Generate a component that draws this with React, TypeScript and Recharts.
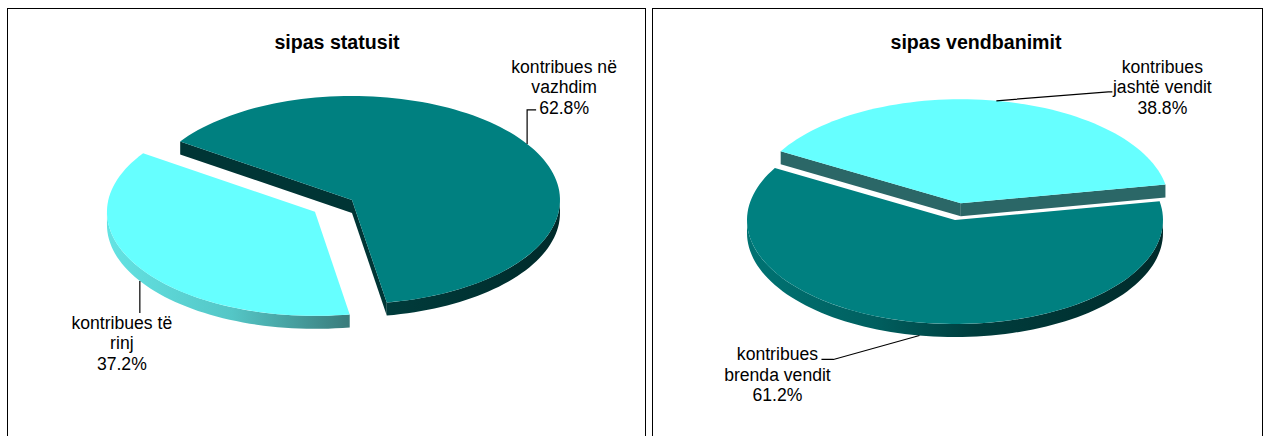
import React from "react";
import { Cell, Pie, PieChart } from "recharts";

// --- data ---
const statusNames = ["kontribues në vazhdim", "kontribues të rinj"];
const statusValues = [62.8, 37.2];
const statusLabelLines = [
  ["kontribues në", "vazhdim"],
  ["kontribues të", "rinj"],
];

const residenceNames = ["kontribues jashtë vendit", "kontribues brenda vendit"];
const residenceValues = [38.8, 61.2];
const residenceLabelLines = [
  ["kontribues", "jashtë vendit"],
  ["kontribues", "brenda vendit"],
];

const titles = ["sipas statusit", "sipas vendbanimit"];

// --- look ---
const FONT = '"Liberation Sans", Arial, Helvetica, sans-serif';
const RAD = Math.PI / 180;
const TILT = 0.5;
const DEPTH = 13;
const LINE_H = 20.5;

const TEAL = "#008080";
const AQUA = "#66ffff";

type SliceLook = {
  top: string;
  face: string;
  wall: [number, string][];
  explode: number;
  leader: [number, number][];
  text: [number, number];
};

const looks: Record<string, SliceLook> = {
  "kontribues në vazhdim": {
    top: TEAL,
    face: "#003535",
    wall: [[0, "#007373"], [0.3, "#006060"], [0.55, "#003d3d"], [1, "#002a2a"]],
    explode: 0,
    leader: [[0, 0], [0, -34], [9, -34]],
    text: [37, -77],
  },
  "kontribues të rinj": {
    top: AQUA,
    face: "#2b6767",
    wall: [[0, "#63e3e3"], [0.3, "#54c6c6"], [0.58, "#3a7c7c"], [1, "#255555"]],
    explode: 44,
    leader: [[0, 0], [0, 32]],
    text: [-18, 42],
  },
  "kontribues jashtë vendit": {
    top: AQUA,
    face: "#2b6767",
    wall: [[0, "#63e3e3"], [0.3, "#54c6c6"], [0.58, "#3a7c7c"], [1, "#255555"]],
    explode: 34,
    leader: [[0, 0], [112, -9], [116, -9]],
    text: [166, -34],
  },
  "kontribues brenda vendit": {
    top: TEAL,
    face: "#003535",
    wall: [[0, "#007373"], [0.3, "#006060"], [0.55, "#003d3d"], [1, "#002a2a"]],
    explode: 0,
    leader: [[0, 0], [-86, 24], [-98, 24]],
    text: [-142, 19],
  },
};

const pt = (cx: number, cy: number, r: number, a: number): [number, number] => [
  cx + r * Math.cos(a * RAD),
  cy - r * TILT * Math.sin(a * RAD),
];

function arc(cx: number, cy: number, r: number, a1: number, a2: number, dy = 0) {
  const n = Math.max(2, Math.ceil(Math.abs(a2 - a1) / 2));
  const out: [number, number][] = [];
  for (let i = 0; i <= n; i++) {
    const [x, y] = pt(cx, cy, r, a1 + ((a2 - a1) * i) / n);
    out.push([x, y + dy]);
  }
  return out;
}

const poly = (p: [number, number][]) =>
  "M" + p.map(([x, y]) => `${x.toFixed(2)},${y.toFixed(2)}`).join("L") + "Z";

function center(props: any, look: SliceLook) {
  const mid = (props.startAngle + props.endAngle) / 2;
  return {
    mid,
    x0: props.cx + look.explode * Math.cos(mid * RAD),
    y0: props.cy - look.explode * TILT * Math.sin(mid * RAD),
  };
}

function Slice3D(props: any) {
  const name = props.name ?? props.payload?.name;
  const look = looks[name];
  const r = props.outerRadius;
  const { x0, y0 } = center(props, look);
  const hi = Math.max(props.startAngle, props.endAngle);
  const lo = Math.min(props.startAngle, props.endAngle);
  const gid = "wall" + name.replace(/[^a-z]/gi, "");

  const faces: string[] = [];
  const edge = (a: number) => {
    const p = pt(x0, y0, r, a);
    faces.push(poly([[x0, y0], p, [p[0], p[1] + DEPTH], [x0, y0 + DEPTH]]));
  };
  if (Math.cos(hi * RAD) < 0) edge(hi);
  if (Math.cos(lo * RAD) > 0) edge(lo);

  const walls: string[] = [];
  for (let n = Math.floor(lo / 360) - 1; n <= Math.ceil(hi / 360) + 1; n++) {
    const a1 = Math.max(lo, 180 + 360 * n);
    const a2 = Math.min(hi, 360 + 360 * n);
    if (a2 > a1) {
      walls.push(poly([...arc(x0, y0, r, a1, a2), ...arc(x0, y0, r, a2, a1, DEPTH)]));
    }
  }

  return (
    <g>
      <defs>
        <linearGradient id={gid} gradientUnits="userSpaceOnUse" x1={x0 - r} y1={0} x2={x0 + r} y2={0}>
          {look.wall.map(([o, c]) => (
            <stop key={o} offset={o} stopColor={c} />
          ))}
        </linearGradient>
      </defs>
      {faces.map((d, i) => (
        <path key={"f" + i} d={d} fill={look.face} />
      ))}
      {walls.map((d, i) => (
        <path key={"w" + i} d={d} fill={`url(#${gid})`} />
      ))}
      <path d={poly([[x0, y0], ...arc(x0, y0, r, props.startAngle, props.endAngle)])} fill={props.fill} />
    </g>
  );
}

const makeLabel = (lines: string[][]) => (props: any) => {
  const name = props.name ?? props.payload?.name;
  const look = looks[name];
  const { mid, x0, y0 } = center(props, look);
  const [ax, ay0] = pt(x0, y0, props.outerRadius, mid);
  const ay = ay0 + (Math.sin(mid * RAD) < 0 ? DEPTH : 0);
  const tx = ax + look.text[0];
  const ty = ay + look.text[1];
  const rows = [...lines[props.index], `${(props.percent * 100).toFixed(1)}%`];
  return (
    <g>
      <polyline
        points={look.leader.map(([dx, dy]) => `${ax + dx},${ay + dy}`).join(" ")}
        fill="none"
        stroke="#000"
        strokeWidth={1.2}
      />
      {rows.map((t, i) => (
        <text
          key={i}
          x={tx}
          y={ty + i * LINE_H}
          textAnchor="middle"
          dominantBaseline="central"
          fontFamily={FONT}
          fontSize={17.6}
          fill="#000"
        >
          {t}
        </text>
      ))}
    </g>
  );
};

const statusData = statusNames.map((name, i) => ({ name, value: statusValues[i] }));
const residenceData = residenceNames.map((name, i) => ({ name, value: residenceValues[i] }));

const panel = (left: number, width: number): React.CSSProperties => ({
  position: "absolute",
  left,
  top: 8,
  width,
  height: 440,
  border: "1px solid #000",
  boxSizing: "border-box",
  background: "#fff",
});

const titleStyle = (cx: number): React.CSSProperties => ({
  position: "absolute",
  left: cx - 150,
  width: 300,
  top: 30,
  lineHeight: "24px",
  textAlign: "center",
  fontFamily: FONT,
  fontWeight: 700,
  fontSize: 19.6,
  color: "#000",
});

export default function App() {
  return (
    <div style={{ position: "absolute", left: 0, top: 0, width: 1266, height: 436, overflow: "hidden", background: "#fff" }}>
      <div style={panel(7, 639)} />
      <div style={panel(652, 611)} />
      <div style={titleStyle(337)}>{titles[0]}</div>
      <div style={titleStyle(976)}>{titles[1]}</div>
      <div style={{ position: "absolute", left: 0, top: 0 }}>
        <PieChart width={1266} height={436} margin={{ top: 0, right: 0, bottom: 0, left: 0 }}>
          <Pie
            data={statusData}
            dataKey="value"
            nameKey="name"
            cx={352}
            cy={200}
            outerRadius={208}
            startAngle={145.7}
            endAngle={-214.3}
            stroke="none"
            labelLine={false}
            label={makeLabel(statusLabelLines)}
            shape={Slice3D}
            isAnimationActive={false}
          >
            {statusData.map((d) => (
              <Cell key={d.name} fill={looks[d.name].top} />
            ))}
          </Pie>
          <Pie
            data={residenceData}
            dataKey="value"
            nameKey="name"
            cx={955}
            cy={220}
            outerRadius={208}
            startAngle={150}
            endAngle={-210}
            stroke="none"
            labelLine={false}
            label={makeLabel(residenceLabelLines)}
            shape={Slice3D}
            isAnimationActive={false}
          >
            {residenceData.map((d) => (
              <Cell key={d.name} fill={looks[d.name].top} />
            ))}
          </Pie>
        </PieChart>
      </div>
    </div>
  );
}
